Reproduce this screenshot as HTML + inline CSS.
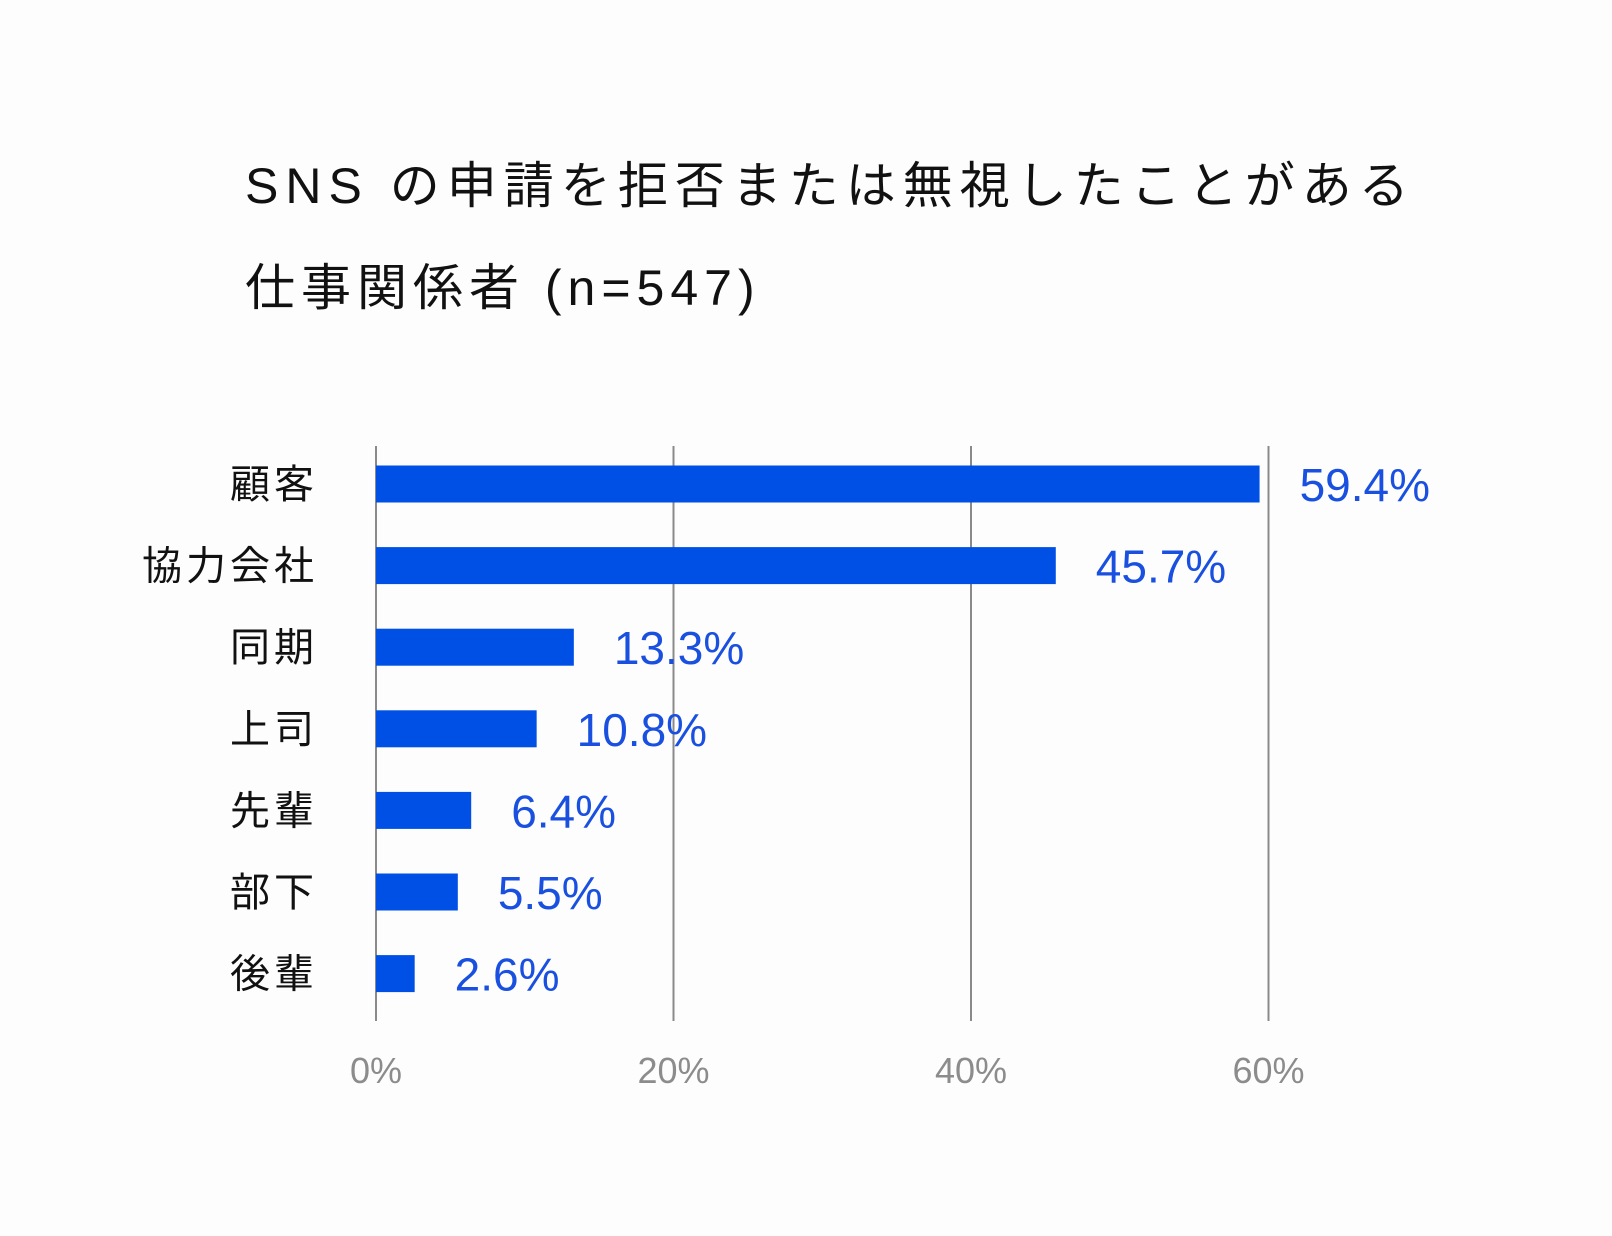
<!DOCTYPE html>
<html><head><meta charset="utf-8"><style>
body{margin:0;background:#fdfdfd;}
svg{display:block;font-family:"Liberation Sans","Noto Sans CJK JP",sans-serif;}
</style></head><body>
<svg width="1612" height="1236" viewBox="0 0 1612 1236">
<text x="245" y="203" font-size="50" letter-spacing="7" fill="#111">SNS の申請を拒否または無視したことがある</text>
<text x="245" y="305" font-size="50" letter-spacing="6" fill="#111">仕事関係者 (n=547)</text>
<g id="grid"></g>
<g id="bars"></g>
<g id="ticks"></g>
</svg>
<script>
const categories=["顧客","協力会社","同期","上司","先輩","部下","後輩"];
const values=[59.4,45.7,13.3,10.8,6.4,5.5,2.6];
const tickValues=[0,20,40,60];
const tickLabels=["0%","20%","40%","60%"];
const NS="http://www.w3.org/2000/svg";
const x0=376,pxPer=14.875,yTop=446,yBot=1021,firstCenter=484,step=81.6,barH=37;
const xs=v=>x0+v*pxPer;
const yc=i=>firstCenter+i*step;
function mk(t,a,p){const e=document.createElementNS(NS,t);for(const k in a)e.setAttribute(k,a[k]);p.appendChild(e);return e;}
const grid=document.getElementById('grid'),bars=document.getElementById('bars'),ticks=document.getElementById('ticks');
tickValues.forEach((v,i)=>{
  const l=mk('line',{x1:xs(v),x2:xs(v),y1:yTop,y2:yBot,stroke:'#8a8a8a','stroke-width':2},grid);
  
  
  const t=mk('text',{x:xs(v),y:1083,'font-size':36,fill:'#8c8c8c','text-anchor':'middle'},ticks);
  t.textContent=tickLabels[i];
  
  
});
categories.forEach((c,i)=>{
  const r=mk('rect',{x:x0,y:yc(i)-barH/2,width:xs(values[i])-x0,height:barH,fill:'#0050e6'},bars);
  
  
  const lab=mk('text',{x:318,y:yc(i)+14,'font-size':40,'letter-spacing':4,fill:'#111','text-anchor':'end'},bars);
  lab.textContent=c;
  
  
  const vl=mk('text',{x:xs(values[i])+40,y:yc(i)+17,'font-size':46,fill:'#1a50e0'},bars);
  vl.textContent=values[i].toFixed(1)+'%';
  
  
});
</script>
</body></html>
